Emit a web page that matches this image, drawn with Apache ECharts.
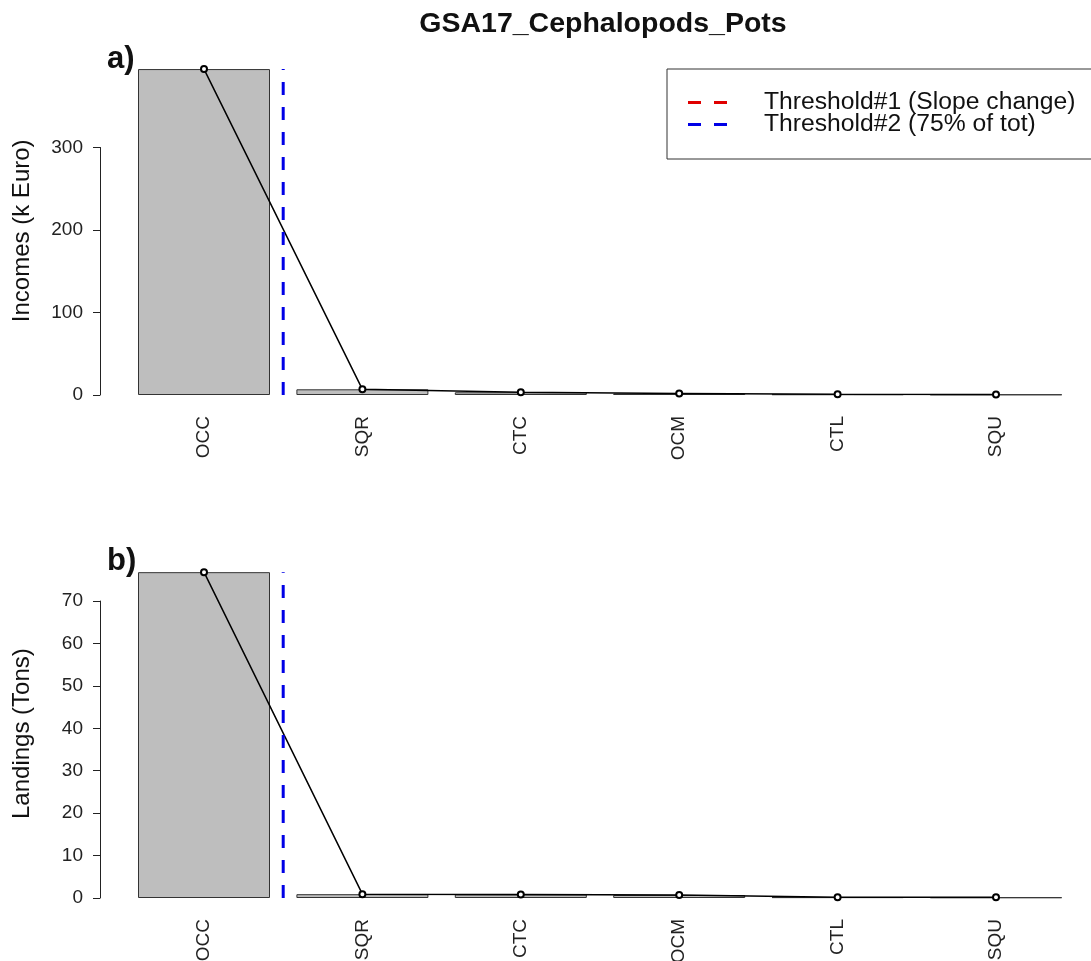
<!DOCTYPE html>
<html>
<head>
<meta charset="utf-8">
<script src="https://cdn.jsdelivr.net/npm/echarts@6/dist/echarts.min.js"></script>
<style>
  html, body { margin: 0; padding: 0; background: #fff; }
  #main { width: 1091px; height: 961px; }
</style>
</head>
<body>
<div id="main"></div>
<script>
// species, sorted by income
var species = ["OCC", "SQR", "CTC", "OCM", "CTL", "SQU"];
var incomes = [395, 6.9, 3.3, 1.8, 0.9, 0.6];     // k Euro
var landings = [76.8, 0.9, 0.85, 0.7, 0.2, 0.15]; // Tons
var incomeTicks = [0, 100, 200, 300];
var landingTicks = [0, 10, 20, 30, 40, 50, 60, 70];
// threshold#2 sits after the first species (75% of tot)
var threshold2 = 0.5;

var FONT = "Liberation Sans";
var AXIS_X = 100;     // R style y axis sits left of the bars
var GRID_LEFT = 124.8;
var GRID_RIGHT = 15.8;

// plot boxes (pixel top/bottom) and value range of each panel
var panelA = { top: 66.6, bottom: 395, max: 398 };
var panelB = { top: 569.2, bottom: 898, max: 77.5 };

function pxOf(panel, v) {
  return panel.bottom - (panel.bottom - panel.top) * v / panel.max;
}

var chart = echarts.init(document.getElementById("main"));

// invisible value axis of the plot, only carries the title
function plotYAxis(grid, name, max) {
  return {
    type: "value",
    gridIndex: grid,
    min: 0,
    max: max,
    offset: GRID_LEFT - AXIS_X,
    name: name,
    nameLocation: "middle",
    nameRotate: 90,
    nameGap: 66,
    nameTextStyle: { fontFamily: FONT, fontSize: 24, color: "#111" },
    axisLine: { show: false },
    axisTick: { show: false },
    axisLabel: { show: false },
    splitLine: { show: false }
  };
}

// R style axis: line spans only from first to last tick
function tickYAxis(grid, ticks) {
  return {
    type: "value",
    gridIndex: grid,
    min: ticks[0],
    max: ticks[ticks.length - 1],
    interval: ticks[1] - ticks[0],
    axisLine: { show: true, lineStyle: { color: "#222", width: 1 } },
    axisTick: { show: true, length: 7, lineStyle: { color: "#222", width: 1 } },
    axisLabel: { fontFamily: FONT, fontSize: 19, color: "#222", margin: 17 },
    splitLine: { show: false }
  };
}

function catAxis(grid) {
  return {
    type: "category",
    gridIndex: grid,
    data: species,
    boundaryGap: true,
    axisLine: { show: false },
    axisTick: { show: false },
    axisLabel: { rotate: 90, fontFamily: FONT, fontSize: 19, color: "#222", margin: 21 }
  };
}

function barSeries(grid, values) {
  return {
    type: "bar",
    xAxisIndex: grid,
    yAxisIndex: grid,
    data: values,
    barWidth: 132,
    itemStyle: { color: "#bebebe", borderColor: "#333", borderWidth: 1 },
    silent: true
  };
}

function pointSeries(grid, values) {
  return {
    type: "line",
    xAxisIndex: grid,
    yAxisIndex: grid,
    data: values,
    symbol: "emptyCircle",
    symbolSize: 6,
    color: "#000",
    lineStyle: { color: "#000", width: 1.5 },
    itemStyle: { color: "#000", borderColor: "#000", borderWidth: 1.5 },
    z: 5
  };
}

function thresholdSeries(grid, values) {
  return {
    type: "line",
    name: "Threshold#2 (75% of tot)",
    xAxisIndex: grid + 2,
    yAxisIndex: grid,
    data: [[threshold2, 0], [threshold2, Math.max.apply(null, values)]],
    symbol: "none",
    color: "#0000e6",
    itemStyle: { color: "#0000e6" },
    lineStyle: { color: "#0000e6", width: 3, type: [13, 12] },
    z: 6
  };
}

function box(left, top, bottom, extra) {
  var g = { left: left, top: top, bottom: 961 - bottom, outerBoundsMode: "none", containLabel: false };
  for (var k in extra) g[k] = extra[k];
  return g;
}

var option = {
  backgroundColor: "#fff",
  animation: false,
  title: [
    { text: "GSA17_Cephalopods_Pots", left: 598, top: 5, textAlign: "center",
      textStyle: { fontFamily: FONT, fontSize: 28.5, fontWeight: "bold", color: "#111" } },
    { text: "a)", left: 102, top: 39,
      textStyle: { fontFamily: FONT, fontSize: 31, fontWeight: "bold", color: "#111" } },
    { text: "b)", left: 102, top: 541,
      textStyle: { fontFamily: FONT, fontSize: 31, fontWeight: "bold", color: "#111" } }
  ],
  legend: {
    data: ["Threshold#1 (Slope change)", "Threshold#2 (75% of tot)"],
    orient: "vertical",
    left: 667,
    top: 69,
    padding: [21, 40, 22, 21],
    itemGap: -3,
    itemWidth: 39,
    itemHeight: 3,
    icon: "path://M0,0H13V3H0Z M26,0H39V3H26Z",
    borderColor: "#333",
    borderWidth: 1,
    borderRadius: 0,
    selectedMode: false,
    textStyle: { fontFamily: FONT, fontSize: 24.7, color: "#111", lineHeight: 21, padding: [0, 0, 0, 32] }
  },
  grid: [
    box(GRID_LEFT, panelA.top, panelA.bottom, { right: GRID_RIGHT }),
    box(GRID_LEFT, panelB.top, panelB.bottom, { right: GRID_RIGHT }),
    // thin boxes that only hold the tick axes
    box(AXIS_X, pxOf(panelA, incomeTicks[incomeTicks.length - 1]), pxOf(panelA, incomeTicks[0]), { width: 1 }),
    box(AXIS_X, pxOf(panelB, landingTicks[landingTicks.length - 1]), pxOf(panelB, landingTicks[0]), { width: 1 })
  ],
  xAxis: [
    catAxis(0),
    catAxis(1),
    { type: "value", gridIndex: 0, min: -0.5, max: 5.5, show: false },
    { type: "value", gridIndex: 1, min: -0.5, max: 5.5, show: false },
    { type: "value", gridIndex: 2, show: false },
    { type: "value", gridIndex: 3, show: false }
  ],
  yAxis: [
    plotYAxis(0, "Incomes (k Euro)", panelA.max),
    plotYAxis(1, "Landings (Tons)", panelB.max),
    tickYAxis(2, incomeTicks),
    tickYAxis(3, landingTicks)
  ],
  series: [
    barSeries(0, incomes),
    pointSeries(0, incomes),
    thresholdSeries(0, incomes),
    barSeries(1, landings),
    pointSeries(1, landings),
    thresholdSeries(1, landings),
    {
      type: "line",
      name: "Threshold#1 (Slope change)",
      xAxisIndex: 2,
      yAxisIndex: 0,
      data: [],
      color: "#e00000",
      itemStyle: { color: "#e00000" },
      lineStyle: { color: "#e00000", width: 3, type: [13, 12] }
    }
  ]
};

chart.setOption(option);
</script>
</body>
</html>
